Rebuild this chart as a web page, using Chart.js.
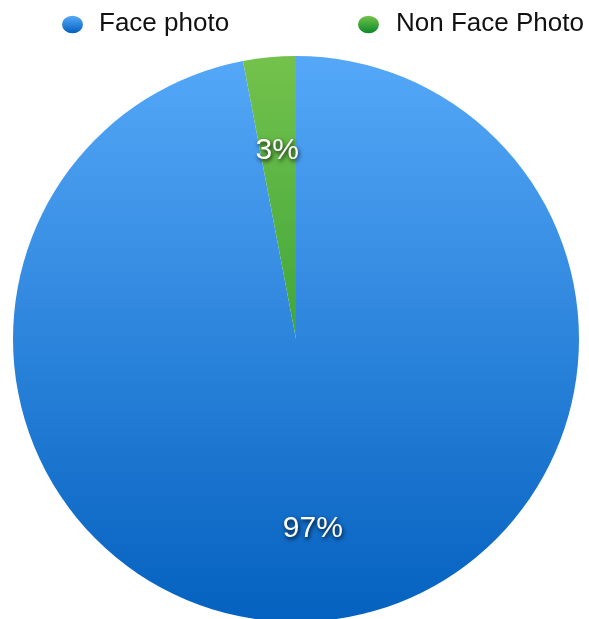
<!DOCTYPE html>
<html>
<head>
<meta charset="utf-8">
<script src="https://cdn.jsdelivr.net/npm/chart.js@4"></script>
<style>
    html, body { margin: 0; padding: 0; background: #fff; overflow: hidden; }
    #wrap { width: 589px; height: 625px; }
</style>
</head>
<body>
<div id="wrap"><canvas id="photoChart" width="589" height="625"></canvas></div>
<script>
// data
const labels = ['Face photo', 'Non Face Photo'];
const values = [97, 3];
const topColors = ['#55a8f8', '#74c24c'];
const bottomColors = ['#0461bf', '#0b8a28'];

function sliceGradient(context) {
    const chart = context.chart;
    const area = chart.chartArea;
    if (!area) return topColors[context.dataIndex];
    const g = chart.ctx.createLinearGradient(0, area.top, 0, area.bottom);
    g.addColorStop(0, topColors[context.dataIndex]);
    g.addColorStop(1, bottomColors[context.dataIndex]);
    return g;
}

// legend drawn at fixed spots like the original
const legendPlugin = {
    id: 'topLegend',
    afterDraw(chart) {
        const ctx = chart.ctx;
        const spots = [{ dot: 72.5, text: 99 }, { dot: 368.5, text: 396 }];
        ctx.save();
        ctx.font = '26px "Liberation Sans", Arial, sans-serif';
        ctx.textBaseline = 'middle';
        labels.forEach((label, i) => {
            const g = ctx.createLinearGradient(0, 16, 0, 33);
            g.addColorStop(0, topColors[i]);
            g.addColorStop(1, bottomColors[i]);
            ctx.fillStyle = g;
            ctx.beginPath();
            ctx.ellipse(spots[i].dot, 24.5, 10.5, 8.7, 0, 0, Math.PI * 2);
            ctx.fill();
            ctx.fillStyle = '#111';
            ctx.fillText(label, spots[i].text, 23.5);
        });
        ctx.restore();
    }
};

// percent labels inside the slices
const percentPlugin = {
    id: 'percentLabels',
    afterDatasetsDraw(chart) {
        const ctx = chart.ctx;
        const total = values.reduce((a, b) => a + b, 0);
        const meta = chart.getDatasetMeta(0);
        ctx.save();
        ctx.font = '30px "Liberation Sans", Arial, sans-serif';
        ctx.textAlign = 'center';
        ctx.textBaseline = 'middle';
        ctx.fillStyle = '#fff';
        ctx.shadowColor = 'rgba(0, 0, 0, 0.9)';
        ctx.shadowOffsetX = 1;
        ctx.shadowOffsetY = 2;
        ctx.shadowBlur = 4;
        meta.data.forEach((arc, i) => {
            const p = arc.getProps(['x', 'y', 'startAngle', 'endAngle', 'outerRadius'], true);
            const mid = (p.startAngle + p.endAngle) / 2;
            const r = p.outerRadius * 0.67;
            const text = Math.round(values[i] / total * 100) + '%';
            ctx.fillText(text, p.x + Math.cos(mid) * r - 1, p.y + Math.sin(mid) * r + 1);
        });
        ctx.restore();
    }
};

new Chart(document.getElementById('photoChart'), {
    type: 'pie',
    data: {
        labels: labels,
        datasets: [{
            data: values,
            backgroundColor: sliceGradient,
            borderWidth: 0
        }]
    },
    options: {
        responsive: false,
        animation: false,
        layout: {
            padding: { top: 56, left: 13, right: 10, bottom: 3 }
        },
        plugins: {
            legend: { display: false },
            tooltip: { enabled: false }
        }
    },
    plugins: [legendPlugin, percentPlugin]
});
</script>
</body>
</html>
